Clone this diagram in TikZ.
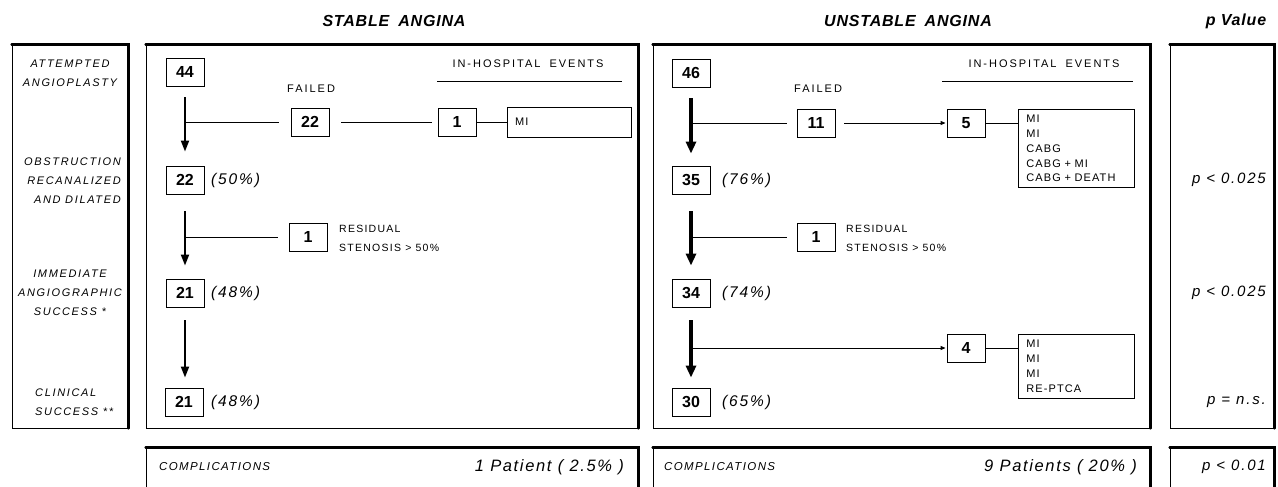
\documentclass[tikz,border=0pt]{standalone}
\usepackage{fontspec}
\setmainfont{Liberation Sans}
\usetikzlibrary{arrows.meta}
\tikzset{
 panel/.style={draw, line width=0.9pt, inner sep=0pt},
 heavy/.style={line width=2.4pt, line cap=round},
 numbox/.style={draw, line width=0.9pt, minimum width=38pt, minimum height=28pt, inner sep=0pt, font=\fontsize{16}{16}\selectfont\bfseries},
 capstxt/.style={inner sep=0pt, font=\fontsize{11}{15}\selectfont\addfontfeature{LetterSpace=18}},
 restxt/.style={inner sep=0pt, anchor=west, align=left, font=\fontsize{10.5}{19}\selectfont\addfontfeature{LetterSpace=12}},
 itlabel/.style={inner sep=0pt, align=center, font=\fontsize{11}{19}\selectfont\itshape\addfontfeature{LetterSpace=15}},
 pct/.style={inner sep=0pt, anchor=west, font=\fontsize{15.5}{16}\selectfont\itshape\addfontfeature{LetterSpace=12}},
 ttl/.style={inner sep=0pt, font=\fontsize{16}{16}\selectfont\bfseries\itshape\addfontfeature{LetterSpace=5}},
 pv/.style={inner sep=0pt, anchor=east, font=\fontsize{15}{15}\selectfont\itshape\addfontfeature{LetterSpace=12}},
 cmp/.style={inner sep=0pt, anchor=west, font=\fontsize{11.5}{14}\selectfont\itshape\addfontfeature{LetterSpace=12}},
 cmpb/.style={inner sep=0pt, anchor=east, font=\fontsize{16.5}{17}\selectfont\itshape\addfontfeature{LetterSpace=10}},
 evbox/.style={draw, line width=0.8pt, anchor=north west, align=left, text width=100pt, inner xsep=8pt, inner ysep=6pt, font=\fontsize{11}{14.7}\selectfont\addfontfeature{LetterSpace=10}},
 mibox/.style={draw, line width=0.8pt, minimum height=30pt, align=left, text width=108pt, inner xsep=8pt, inner ysep=0pt, font=\fontsize{11}{15}\selectfont\addfontfeature{LetterSpace=10}},
 sarrow/.style={line width=2pt, -{Triangle[length=11pt,width=8pt]}},
 uarrow/.style={line width=3.2pt, -{Triangle[length=12pt,width=10pt]}},
 branch/.style={line width=0.9pt},
 harrow/.style={line width=0.9pt, -{Triangle[length=5pt,width=4pt]}},
}
\begin{document}
\begin{tikzpicture}[x=1pt,y=-1pt]
\useasboundingbox (0,0) rectangle (1278,487);
\clip (0,0) rectangle (1278,487);

% titles
\node[ttl] (t1) at (394,21) {STABLE\hspace{9pt}ANGINA};
\node[ttl] (t2) at (908,21) {UNSTABLE\hspace{9pt}ANGINA};
\node[ttl] (t3) at (1236,21) {p Value};

% panels
\node[panel, minimum width=116pt, minimum height=383pt] (lbox) at (70,236.5) {};
\node[panel, minimum width=492pt, minimum height=383pt] (stab) at (392,236.5) {};
\node[panel, minimum width=497pt, minimum height=383pt] (unst) at (901.5,236.5) {};
\node[panel, minimum width=104pt, minimum height=383pt] (pbox) at (1222,236.5) {};
\node[panel, minimum width=492pt, minimum height=60pt] (cs) at (392,478) {};
\node[panel, minimum width=497pt, minimum height=60pt] (cu) at (901.5,478) {};
\node[panel, minimum width=104pt, minimum height=60pt] (cp) at (1222,478) {};
\foreach \b in {lbox,stab,unst,pbox,cs,cu,cp}
  \draw[heavy] (\b.north west) -- (\b.north east) -- (\b.south east);

% left labels
\node[itlabel] (l1) at (70,73) {ATTEMPTED\\ANGIOPLASTY};
\node[itlabel, align=right, anchor=east] (l2) at (121,181) {OBSTRUCTION\\RECANALIZED\\AND DILATED};
\node[itlabel] (l3) at (70,293) {IMMEDIATE\\ANGIOGRAPHIC\\SUCCESS *};
\node[itlabel, align=left, anchor=west] (l4) at (35,402) {CLINICAL\\SUCCESS **};

% stable angina
\node[numbox] (s44) at (185,72) {44};
\node[capstxt, anchor=west] (sfail) at (287,89) {FAILED};
\node[numbox] (sf22) at (310,122) {22};
\node[numbox] (se1) at (457,122) {1};
\node[mibox] (smi) at (569,122) {MI};
\node[capstxt] (sih) at (528,64) {IN-HOSPITAL\hspace{9pt}EVENTS};
\draw[line width=0.9pt] (437,81) -- (622,81);
\node[numbox] (s22) at (185,180) {22};
\node[pct] (s22p) at (211,180) {(50\%)};
\node[numbox] (sr1) at (308,237) {1};
\node[restxt] (sres) at (339,238) {RESIDUAL\\STENOSIS > 50\%};
\node[numbox] (s21) at (185,293) {21};
\node[pct] (s21p) at (211,293) {(48\%)};
\node[numbox] (s21b) at (184,402) {21};
\node[pct] (s21bp) at (211,402) {(48\%)};

\draw[sarrow, shorten <=11pt, shorten >=14pt] (s44) -- (s22);
\draw[branch, shorten >=12pt] (s44 |- sf22) -- (sf22);
\draw[branch, shorten <=12pt, shorten >=6pt] (sf22) -- (se1);
\draw[branch] (se1) -- (smi);
\draw[sarrow, shorten <=17pt, shorten >=13pt] (s22) -- (s21);
\draw[branch, shorten >=11pt] (s22 |- sr1) -- (sr1);
\draw[sarrow, shorten <=13pt, shorten >=10pt] (s21) -- (s21 |- s21b.north);

% unstable angina
\node[numbox] (u46) at (691,73) {46};
\node[capstxt, anchor=west] (ufail) at (794,89) {FAILED};
\node[numbox] (u11) at (816,123) {11};
\node[numbox] (u5) at (966,123) {5};
\node[evbox] (uev1) at (1018,109) {MI\\MI\\CABG\\CABG + MI\\CABG + DEATH};
\node[capstxt] (uih) at (1044,64) {IN-HOSPITAL\hspace{9pt}EVENTS};
\draw[line width=0.9pt] (942,81) -- (1133,81);
\node[numbox] (u35) at (691,180) {35};
\node[pct] (u35p) at (722,180) {(76\%)};
\node[numbox] (ur1) at (816,237) {1};
\node[restxt] (ures) at (846,238) {RESIDUAL\\STENOSIS > 50\%};
\node[numbox] (u34) at (691,293) {34};
\node[pct] (u34p) at (722,293) {(74\%)};
\node[numbox] (u4) at (966,348) {4};
\node[evbox] (uev2) at (1018,334) {MI\\MI\\MI\\RE-PTCA};
\node[numbox] (u30) at (691,402) {30};
\node[pct] (u30p) at (722,402) {(65\%)};

\draw[uarrow, shorten <=11pt, shorten >=12pt] (u46) -- (u35);
\draw[branch, shorten >=10pt] (u46 |- u11) -- (u11);
\draw[harrow, shorten <=9pt, shorten >=1pt] (u11) -- (u5);
\draw[branch] (u5.east) -- (u5 -| uev1.west);
\draw[uarrow, shorten <=17pt, shorten >=13pt] (u35) -- (u34);
\draw[branch, shorten >=10pt] (u35 |- ur1) -- (ur1);
\draw[uarrow, shorten <=13pt, shorten >=10pt] (u34) -- (u30);
\draw[harrow, shorten >=1pt] (u34 |- u4) -- (u4);
\draw[branch] (u4.east) -- (u4 -| uev2.west);

% p values
\node[pv] (p1) at (1266,180) {p < 0.025};
\node[pv] (p2) at (1266,293) {p < 0.025};
\node[pv] (p3) at (1266,402) {p = n.s.};

% complications
\node[cmp] (c1) at (159,467) {COMPLICATIONS};
\node[cmpb] (c1r) at (624,467) {1 Patient ( 2.5\% )};
\node[cmp] (c2) at (664,467) {COMPLICATIONS};
\node[cmpb] (c2r) at (1137,467) {9 Patients ( 20\% )};
\node[pv] (p4) at (1266,467) {p < 0.01};
\end{tikzpicture}
\end{document}
